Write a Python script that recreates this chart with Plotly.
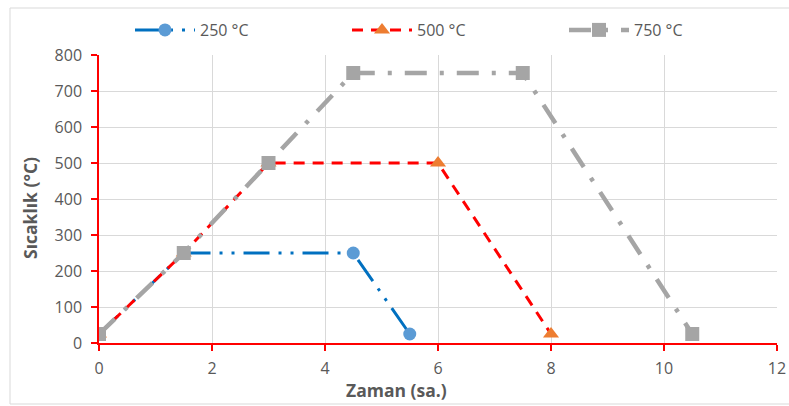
import plotly.graph_objects as go

x_250 = [0, 1.5, 4.5, 5.5]
y_250 = [25, 250, 250, 25]
x_500 = [0, 1.5, 3, 6, 8]
y_500 = [25, 250, 500, 500, 25]
x_750 = [0, 1.5, 3, 4.5, 7.5, 10.5]
y_750 = [25, 250, 500, 750, 750, 25]

names = ["250 °C", "500 °C", "750 °C"]
x_ticks = [0, 2, 4, 6, 8, 10, 12]
y_ticks = [0, 100, 200, 300, 400, 500, 600, 700, 800]

FONT = "Open Sans"
GREY_TXT = "#595959"

fig = go.Figure()
fig.add_trace(go.Scatter(
    x=x_250, y=y_250, name=names[0], mode="lines+markers",
    line=dict(color="#0070C0", width=3, dash="26px,9px,3px,9px,3px,9px"),
    marker=dict(symbol="circle", size=13, color="#5B9BD5"),
))
fig.add_trace(go.Scatter(
    x=x_500, y=y_500, name=names[1], mode="lines+markers",
    line=dict(color="#FF0000", width=3, dash="11px,8px"),
    marker=dict(symbol="triangle-up", size=14, color="#ED7D31"),
))
fig.add_trace(go.Scatter(
    x=x_750, y=y_750, name=names[2], mode="lines+markers",
    line=dict(color="#A5A5A5", width=4.5, dash="22px,13px,4px,13px"),
    marker=dict(symbol="square", size=14, color="#A5A5A5"),
))

W, H = 789, 406
L, R, T, B = 99, 12, 55, 63
pw = W - L - R
ph = H - T - B

def px(xp):
    return (xp - L) / pw

def py(yp):
    return (H - B - yp) / ph

fig.update_layout(
    width=W, height=H,
    margin=dict(l=L, r=R, t=T, b=B, autoexpand=False),
    paper_bgcolor="white", plot_bgcolor="white",
    font=dict(family=FONT, color=GREY_TXT, size=15),
    showlegend=True,
    legend=dict(
        orientation="h", x=px(130), y=py(30), xanchor="left", yanchor="middle",
        entrywidth=142, entrywidthmode="pixels", itemwidth=60,
        font=dict(size=16, color=GREY_TXT, family=FONT),
        bgcolor="rgba(0,0,0,0)",
    ),
    xaxis=dict(
        range=[0, 12], tickvals=x_ticks, ticktext=[str(v) for v in x_ticks],
        showgrid=True, gridcolor="#D9D9D9", gridwidth=1,
        showline=True, linecolor="#FF0000", linewidth=1.5,
        ticks="outside", tickcolor="#FF0000", ticklen=6, tickwidth=1.5,
        tickfont=dict(size=16, color=GREY_TXT), zeroline=False,
        ticklabelstandoff=4,
    ),
    yaxis=dict(
        range=[0, 800], tickvals=y_ticks, ticktext=[str(v) for v in y_ticks],
        showgrid=True, gridcolor="#D9D9D9", gridwidth=1,
        showline=True, linecolor="#FF0000", linewidth=1.5,
        ticks="outside", tickcolor="#FF0000", ticklen=6, tickwidth=1.5,
        tickfont=dict(size=16, color=GREY_TXT), zeroline=False,
        ticklabelstandoff=6,
    ),
    annotations=[
        dict(text="<b>Zaman (sa.)</b>", xref="paper", yref="paper",
             x=px(396), y=py(390), xanchor="center", yanchor="middle",
             showarrow=False, font=dict(size=17.5, color=GREY_TXT)),
        dict(text="<b>Sıcaklık (°C)</b>", xref="paper", yref="paper",
             x=px(30), y=py(208), xanchor="center", yanchor="middle",
             textangle=-90, showarrow=False, font=dict(size=17.5, color=GREY_TXT)),
    ],
    shapes=[
        dict(type="rect", xref="paper", yref="paper",
             x0=px(10), x1=px(800), y0=py(404), y1=py(8),
             line=dict(color="#D9D9D9", width=1), layer="below"),
    ],
)

fig.write_html("out.html")
